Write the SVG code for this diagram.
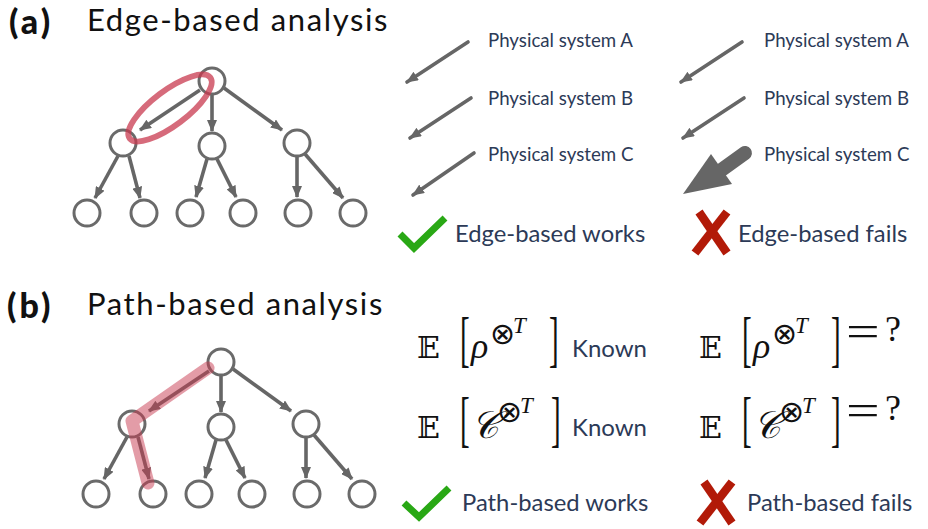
<svg xmlns="http://www.w3.org/2000/svg" width="928" height="529" viewBox="0 0 928 529">
<defs>
<marker id="ah" viewBox="0 0 12 10" refX="11" refY="5" markerWidth="12" markerHeight="10" markerUnits="userSpaceOnUse" orient="auto">
<path d="M0,0 L12,5 L0,10 z" fill="#666"/>
</marker>
<style>
.node{fill:#fff;stroke:#6a6a6a;stroke-width:3}
.edge{stroke:#666;stroke-width:3.6;fill:none;marker-end:url(#ah)}
.sys{stroke:#666;stroke-width:3.6;stroke-linecap:round;fill:none;marker-end:url(#ah)}
.title{font-family:Lato,"Open Sans",sans-serif;font-size:31px;letter-spacing:1.6px;fill:#111}
.lab{font-family:Lato,"Open Sans",sans-serif;font-weight:900;font-size:34px;letter-spacing:3px;fill:#111}
.ps{font-family:Lato,"Open Sans",sans-serif;font-size:18.7px;fill:#2c3a57}
.res{font-family:Lato,"Open Sans",sans-serif;font-size:23.8px;fill:#2c3a57}
.known{font-family:Lato,"Open Sans",sans-serif;font-size:24px;fill:#2c3a57}
.bb{font-family:"DejaVu Serif","DejaVu Sans",serif;font-size:30px;fill:#111}
.br{font-family:"Liberation Serif",serif;font-size:29px;fill:#111}
.it{font-family:"Liberation Serif",serif;font-style:italic;fill:#111}
.ot{font-family:"DejaVu Sans",sans-serif;font-style:normal;font-size:30px}
.sup{font-family:"Liberation Serif",serif;font-style:italic;font-size:23px}
.eq{font-family:"Liberation Serif",serif;fill:#111}
.ok{stroke:#29a815;stroke-width:7;fill:none;stroke-linejoin:miter;stroke-linecap:butt}
.no{stroke:#b21a08;stroke-width:8.5;fill:none;stroke-linecap:butt}
</style>
</defs>

<!-- Titles -->
<text class="lab" x="9" y="34">(a)</text>
<text class="title" x="87" y="31">Edge-based analysis</text>
<text class="lab" x="7" y="318">(b)</text>
<text class="title" x="87" y="315">Path-based analysis</text>

<!-- Tree (a) -->
<g id="tree-a">
<g id="connectors-a">
<line class="edge" x1="200" y1="90" x2="140" y2="130"/>
<line class="edge" x1="212" y1="94" x2="212" y2="131"/>
<line class="edge" x1="224" y1="88" x2="282" y2="130"/>
<line class="edge" x1="118" y1="156" x2="95" y2="198"/>
<line class="edge" x1="129" y1="156" x2="140" y2="198"/>
<line class="edge" x1="207" y1="159" x2="196" y2="197"/>
<line class="edge" x1="217" y1="159" x2="236" y2="197"/>
<line class="edge" x1="297" y1="156" x2="297" y2="197"/>
<line class="edge" x1="305" y1="154" x2="343" y2="198"/>
</g>
<g id="a-root"><circle class="node" cx="212" cy="81" r="13"/></g>
<g id="a-m1"><circle class="node" cx="123" cy="143" r="13"/></g>
<g id="a-m2"><circle class="node" cx="212" cy="146" r="13"/></g>
<g id="a-m3"><circle class="node" cx="297" cy="143" r="13"/></g>
<g id="a-l1"><circle class="node" cx="87" cy="213" r="13"/></g>
<g id="a-l2"><circle class="node" cx="144" cy="213" r="13"/></g>
<g id="a-l3"><circle class="node" cx="190" cy="213" r="13"/></g>
<g id="a-l4"><circle class="node" cx="243" cy="213" r="13"/></g>
<g id="a-l5"><circle class="node" cx="298" cy="213" r="13"/></g>
<g id="a-l6"><circle class="node" cx="353" cy="213" r="13"/></g>
<ellipse id="a-highlight" cx="170" cy="108" rx="50.5" ry="17.4" transform="rotate(-37 170 108)" fill="none" stroke="#c8394f" stroke-opacity="0.75" stroke-width="5.8"/>
</g>

<!-- Tree (b) -->
<g id="tree-b" transform="translate(9,281)">
<g id="connectors-b">
<line class="edge" x1="200" y1="90" x2="140" y2="130"/>
<line class="edge" x1="212" y1="94" x2="212" y2="131"/>
<line class="edge" x1="224" y1="88" x2="282" y2="130"/>
<line class="edge" x1="118" y1="156" x2="95" y2="198"/>
<line class="edge" x1="129" y1="156" x2="140" y2="198"/>
<line class="edge" x1="207" y1="159" x2="196" y2="197"/>
<line class="edge" x1="217" y1="159" x2="236" y2="197"/>
<line class="edge" x1="297" y1="156" x2="297" y2="197"/>
<line class="edge" x1="305" y1="154" x2="343" y2="198"/>
</g>
<g id="b-root"><circle class="node" cx="212" cy="81" r="13"/></g>
<g id="b-m1"><circle class="node" cx="123" cy="143" r="13"/></g>
<g id="b-m2"><circle class="node" cx="212" cy="146" r="13"/></g>
<g id="b-m3"><circle class="node" cx="297" cy="143" r="13"/></g>
<g id="b-l1"><circle class="node" cx="87" cy="213" r="13"/></g>
<g id="b-l2"><circle class="node" cx="144" cy="213" r="13"/></g>
<g id="b-l3"><circle class="node" cx="190" cy="213" r="13"/></g>
<g id="b-l4"><circle class="node" cx="243" cy="213" r="13"/></g>
<g id="b-l5"><circle class="node" cx="298" cy="213" r="13"/></g>
<g id="b-l6"><circle class="node" cx="353" cy="213" r="13"/></g>
<path id="b-highlight" d="M199,87 L123,140 L139,202" fill="none" stroke="#c8394f" stroke-opacity="0.5" stroke-width="13" stroke-linecap="round" stroke-linejoin="round"/>
</g>

<!-- (a) right: physical systems -->
<g id="sys-arrows">
<line class="sys" x1="468" y1="42" x2="407" y2="82"/>
<line class="sys" x1="471" y1="98" x2="410" y2="138"/>
<line class="sys" x1="474" y1="153" x2="413" y2="195"/>
<line class="sys" x1="742" y1="42" x2="681" y2="82"/>
<line class="sys" x1="744" y1="98" x2="683" y2="138"/>
<line x1="745" y1="153" x2="720" y2="171" stroke="#666" stroke-width="14" stroke-linecap="round"/>
<polygon points="683,194 711,154 732,184" fill="#666"/>
</g>
<g id="sys-labels">
<text class="ps" x="488" y="47">Physical system A</text>
<text class="ps" x="488" y="105">Physical system B</text>
<text class="ps" x="488" y="161">Physical system C</text>
<text class="ps" x="764" y="47">Physical system A</text>
<text class="ps" x="764" y="105">Physical system B</text>
<text class="ps" x="764" y="161">Physical system C</text>
</g>

<g id="edge-works">
<polyline class="ok" points="400,234 414,248 445,218"/>
<text class="res" x="455" y="242">Edge-based works</text>
</g>
<g id="edge-fails">
<line class="no" x1="699" y1="212" x2="727" y2="253"/>
<line class="no" x1="727" y1="212" x2="695" y2="253"/>
<text class="res" x="738" y="242">Edge-based fails</text>
</g>

<!-- (b) right: moments -->
<g id="eq-rho-known">
<text class="bb" x="417" y="358">𝔼</text>
<text class="br" x="460" y="0" transform="translate(0,360) scale(1,2.1)">[</text>
<text class="it" x="471" y="358" font-size="36">ρ<tspan class="ot" x="490" y="344">⊗</tspan><tspan class="sup" x="513" y="333">T</tspan></text>
<text class="br" x="549" y="0" transform="translate(0,360) scale(1,2.1)">]</text>
<text class="known" x="572" y="357">Known</text>
</g>
<g id="eq-c-known">
<text class="bb" x="417" y="438">𝔼</text>
<text class="br" x="460" y="0" transform="translate(0,440) scale(1,2.1)">[</text>
<text class="it" x="471" y="438" font-size="38">𝒞<tspan class="ot" x="497" y="422">⊗</tspan><tspan class="sup" x="520" y="413">T</tspan></text>
<text class="br" x="551" y="0" transform="translate(0,440) scale(1,2.1)">]</text>
<text class="known" x="572" y="436">Known</text>
</g>
<g id="eq-rho-unknown">
<text class="bb" x="699" y="358">𝔼</text>
<text class="br" x="742" y="0" transform="translate(0,360) scale(1,2.1)">[</text>
<text class="it" x="753" y="358" font-size="36">ρ<tspan class="ot" x="772" y="344">⊗</tspan><tspan class="sup" x="795" y="333">T</tspan></text>
<text class="br" x="831" y="0" transform="translate(0,360) scale(1,2.1)">]</text>
<text class="eq" x="0" y="0" font-size="46" transform="translate(846,347) scale(1.3,1)">=</text>
<text class="eq" x="885" y="341" font-size="36">?</text>
</g>
<g id="eq-c-unknown">
<text class="bb" x="699" y="438">𝔼</text>
<text class="br" x="742" y="0" transform="translate(0,440) scale(1,2.1)">[</text>
<text class="it" x="753" y="438" font-size="38">𝒞<tspan class="ot" x="779" y="422">⊗</tspan><tspan class="sup" x="802" y="413">T</tspan></text>
<text class="br" x="831" y="0" transform="translate(0,440) scale(1,2.1)">]</text>
<text class="eq" x="0" y="0" font-size="46" transform="translate(846,426) scale(1.3,1)">=</text>
<text class="eq" x="885" y="420" font-size="36">?</text>
</g>

<g id="path-works">
<polyline class="ok" points="404,503 419,517 449,488"/>
<text class="res" x="462" y="511">Path-based works</text>
</g>
<g id="path-fails">
<line class="no" x1="704" y1="482" x2="732" y2="523"/>
<line class="no" x1="732" y1="482" x2="700" y2="523"/>
<text class="res" x="747" y="511">Path-based fails</text>
</g>
</svg>
